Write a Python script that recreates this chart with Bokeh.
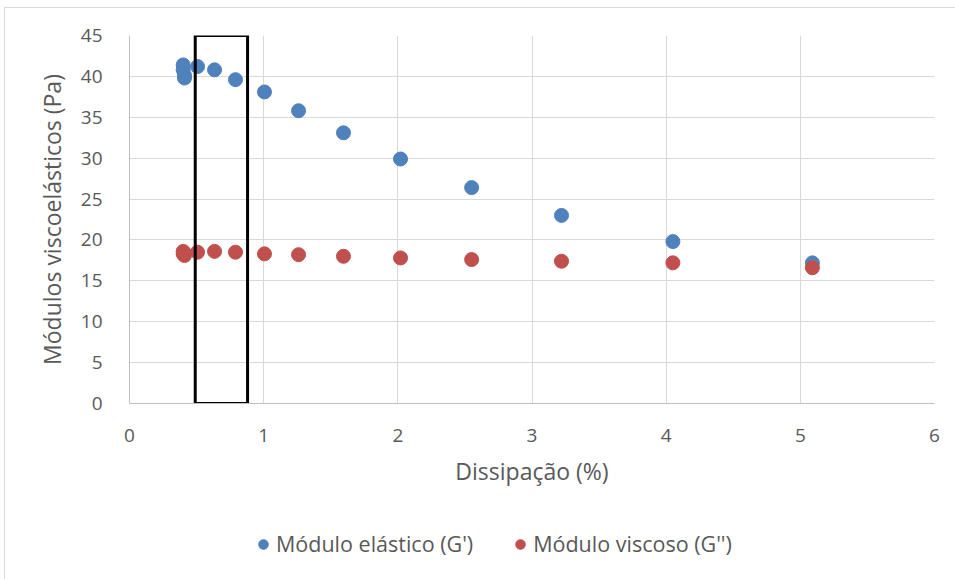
from bokeh.plotting import figure
from bokeh.layouts import column
from bokeh.models import Legend, LegendItem, FixedTicker, ColumnDataSource
from bokeh.embed import file_html
from bokeh.resources import INLINE

# Dissipation (%) and viscoelastic moduli (Pa)
dissipacao = [0.40, 0.40, 0.41, 0.41, 0.507, 0.634, 0.79, 1.006, 1.26, 1.595,
              2.02, 2.55, 3.22, 4.05, 5.09]
modulo_elastico = [41.4, 40.8, 40.1, 39.8, 41.2, 40.8, 39.6, 38.1, 35.8, 33.1,
                   29.9, 26.4, 23.0, 19.8, 17.2]
modulo_viscoso = [18.6, 18.3, 18.1, 18.4, 18.5, 18.6, 18.5, 18.3, 18.2, 18.0,
                  17.8, 17.6, 17.4, 17.2, 16.6]

# Highlighted range of dissipation
faixa_x = [0.49, 0.88]
faixa_y = [0, 45]

x_ticks = [0, 1, 2, 3, 4, 5, 6]
y_ticks = [0, 5, 10, 15, 20, 25, 30, 35, 40, 45]

serie_nomes = ["Módulo elástico (G')", "Módulo viscoso (G'')"]

FONT = "Open Sans"
TXT = "#595959"
GRID = "#d9d9d9"
AXIS = "#bfbfbf"
BLUE = "#4f81bd"
RED = "#c0504d"

W = 951
p = figure(width=W, height=500, output_backend="svg", toolbar_location=None,
           x_range=(0, 6), y_range=(0, 45),
           min_border_left=124, min_border_right=22,
           min_border_top=27, min_border_bottom=105)
p.outline_line_color = None
p.background_fill_color = "white"
p.border_fill_color = "white"

p.xaxis.ticker = FixedTicker(ticks=x_ticks)
p.yaxis.ticker = FixedTicker(ticks=y_ticks)
for ax in (p.xaxis, p.yaxis):
    ax.major_tick_line_color = None
    ax.minor_tick_line_color = None
    ax.axis_line_color = AXIS
    ax.axis_line_width = 1
    ax.major_label_text_font = FONT
    ax.major_label_text_font_size = "19px"
    ax.major_label_text_color = TXT
    ax.axis_label_text_font = FONT
    ax.axis_label_text_font_size = "23px"
    ax.axis_label_text_color = TXT
    ax.axis_label_text_font_style = "normal"

p.xaxis.axis_label = "Dissipação (%)"
p.yaxis.axis_label = "Módulos viscoelásticos (Pa)"
p.xaxis.major_label_standoff = 19
p.yaxis.major_label_standoff = 21
p.xaxis.axis_label_standoff = 10
p.yaxis.axis_label_standoff = 10

p.xgrid.grid_line_color = GRID
p.ygrid.grid_line_color = GRID
p.xgrid.ticker = FixedTicker(ticks=x_ticks)
p.ygrid.ticker = FixedTicker(ticks=y_ticks)

src = ColumnDataSource(dict(x=dissipacao, g1=modulo_elastico, g2=modulo_viscoso))
p.scatter("x", "g1", source=src, size=14, fill_color=BLUE, line_color=BLUE)
p.scatter("x", "g2", source=src, size=14, fill_color=RED, line_color=RED)

p.quad(left=[faixa_x[0]], right=[faixa_x[1]], bottom=[faixa_y[0]], top=[faixa_y[1]],
       fill_color=None, line_color="black", line_width=3)

# Legend strip under the chart; its renderers sit outside the visible range
leg = figure(width=W, height=72, output_backend="svg", toolbar_location=None,
             x_range=(0, 1), y_range=(0, 1), min_border=0)
leg.axis.visible = False
leg.grid.visible = False
leg.outline_line_color = None
leg.border_fill_color = "white"
l1 = leg.scatter([-5], [-5], size=14, fill_color=BLUE, line_color=BLUE)
l2 = leg.scatter([-5], [-5], size=14, fill_color=RED, line_color=RED)
legend = Legend(items=[LegendItem(label=serie_nomes[0], renderers=[l1]),
                       LegendItem(label=serie_nomes[1], renderers=[l2])],
                orientation="horizontal", location=(122, 22),
                label_text_font=FONT, label_text_font_size="21.5px",
                label_text_color=TXT, background_fill_alpha=0,
                border_line_color=None, spacing=35,
                glyph_width=24, glyph_height=24,
                label_standoff=1, padding=0, margin=0)
leg.add_layout(legend, "center")

layout = column(p, leg, spacing=0)
layout.styles = {"margin-left": "4px", "margin-top": "7px",
                 "border-left": "1.5px solid #d9d9d9", "border-top": "1.5px solid #d9d9d9"}

open("out.html", "w").write(file_html(layout, INLINE))
